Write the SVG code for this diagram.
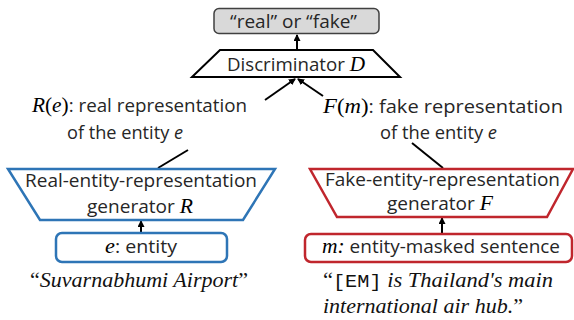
<svg xmlns="http://www.w3.org/2000/svg" width="574" height="320" viewBox="0 0 574 320">
<style>
.t{font-family:"Open Sans","Liberation Sans",sans-serif;font-weight:400;font-size:18.5px;fill:#262626}
.m{font-family:"Liberation Serif",serif;font-style:italic;font-weight:400;font-size:21px;fill:#000}
.p{font-family:"Liberation Serif",serif;font-style:normal;font-weight:400;font-size:21px;fill:#000}
.q{font-family:"Liberation Serif",serif;font-weight:400;font-size:20px;fill:#111}
.i{font-style:italic}
.mono{font-family:"Liberation Mono",monospace;font-size:18px}
.conn{stroke:#000;stroke-width:2;fill:none}
.blue{fill:#fff;stroke:#2e75b6;stroke-width:2.5}
.red{fill:#fff;stroke:#c0262d;stroke-width:2.5}
</style>
<defs>
<marker id="ah" markerWidth="7" markerHeight="7" refX="6" refY="3.5" orient="auto" markerUnits="userSpaceOnUse"><path d="M0,0 L7,3.5 L0,7z" fill="#000"/></marker>
</defs>
<g id="connectors">
<line class="conn" x1="297" y1="50" x2="297" y2="35" marker-end="url(#ah)"/>
<line class="conn" x1="265" y1="100" x2="295" y2="79" marker-end="url(#ah)"/>
<line class="conn" x1="323" y1="96" x2="298" y2="79" marker-end="url(#ah)"/>
<line class="conn" x1="158" y1="168" x2="188" y2="150"/>
<line class="conn" x1="443" y1="168" x2="412" y2="143"/>
<line class="conn" x1="141" y1="233" x2="141" y2="221" marker-end="url(#ah)"/>
<line class="conn" x1="442" y1="234" x2="442" y2="218" marker-end="url(#ah)"/>
</g>
<g id="output">
<rect x="214" y="8.5" width="165" height="25" rx="5" fill="#d9d9d9" stroke="#404040" stroke-width="1.5"/>
<text class="t" x="230" y="28" textLength="127" lengthAdjust="spacingAndGlyphs">“real” or “fake”</text>
</g>
<g id="discriminator">
<polygon points="220,50 373,50 400,77 192,77" fill="#fff" stroke="#000" stroke-width="2"/>
<text class="t" x="227" y="71" textLength="138" lengthAdjust="spacingAndGlyphs">Discriminator <tspan class="m">D</tspan></text>
</g>
<g id="real-label">
<text class="t" x="32" y="112" textLength="215" lengthAdjust="spacingAndGlyphs"><tspan class="m">R</tspan><tspan class="p">(</tspan><tspan class="m">e</tspan><tspan class="p">)</tspan>: real representation</text>
<text class="t" x="67" y="139" textLength="116" lengthAdjust="spacingAndGlyphs">of the entity <tspan class="i">e</tspan></text>
</g>
<g id="fake-label">
<text class="t" x="323" y="113" textLength="240" lengthAdjust="spacingAndGlyphs"><tspan class="m">F</tspan><tspan class="p">(</tspan><tspan class="m">m</tspan><tspan class="p">)</tspan>: fake representation</text>
<text class="t" x="380" y="139" textLength="117" lengthAdjust="spacingAndGlyphs">of the entity <tspan class="i">e</tspan></text>
</g>
<g id="real-generator">
<polygon class="blue" points="8,169 275,169 243,220 40,220"/>
<text class="t" x="25" y="187" textLength="232" lengthAdjust="spacingAndGlyphs">Real-entity-representation</text>
<text class="t" x="87" y="213" textLength="106" lengthAdjust="spacingAndGlyphs">generator <tspan class="m">R</tspan></text>
</g>
<g id="fake-generator">
<polygon class="red" points="310,169 573,169 547,217 337,217"/>
<text class="t" x="325" y="186" textLength="235" lengthAdjust="spacingAndGlyphs">Fake-entity-representation</text>
<text class="t" x="387" y="210" textLength="106" lengthAdjust="spacingAndGlyphs">generator <tspan class="m">F</tspan></text>
</g>
<g id="entity">
<rect class="blue" x="56" y="233" width="171" height="29" rx="6" stroke-width="2"/>
<text class="t" x="105" y="253" textLength="72" lengthAdjust="spacingAndGlyphs"><tspan class="m">e</tspan>: entity</text>
</g>
<g id="masked-sentence">
<rect class="red" x="305" y="234" width="267" height="28" rx="6" stroke-width="2"/>
<text class="t" x="322" y="253" textLength="238" lengthAdjust="spacingAndGlyphs"><tspan class="m">m:</tspan> entity-masked sentence</text>
</g>
<g id="examples">
<text class="q" x="30" y="287" textLength="218" lengthAdjust="spacingAndGlyphs">“<tspan class="i">Suvarnabhumi Airport</tspan>”</text>
<text class="q" x="323" y="287" textLength="230" lengthAdjust="spacingAndGlyphs">“<tspan class="mono">[EM]</tspan> <tspan class="i">is Thailand's main</tspan></text>
<text class="q" x="323" y="313" textLength="200" lengthAdjust="spacingAndGlyphs"><tspan class="i">international air hub.</tspan>”</text>
</g>
</svg>
